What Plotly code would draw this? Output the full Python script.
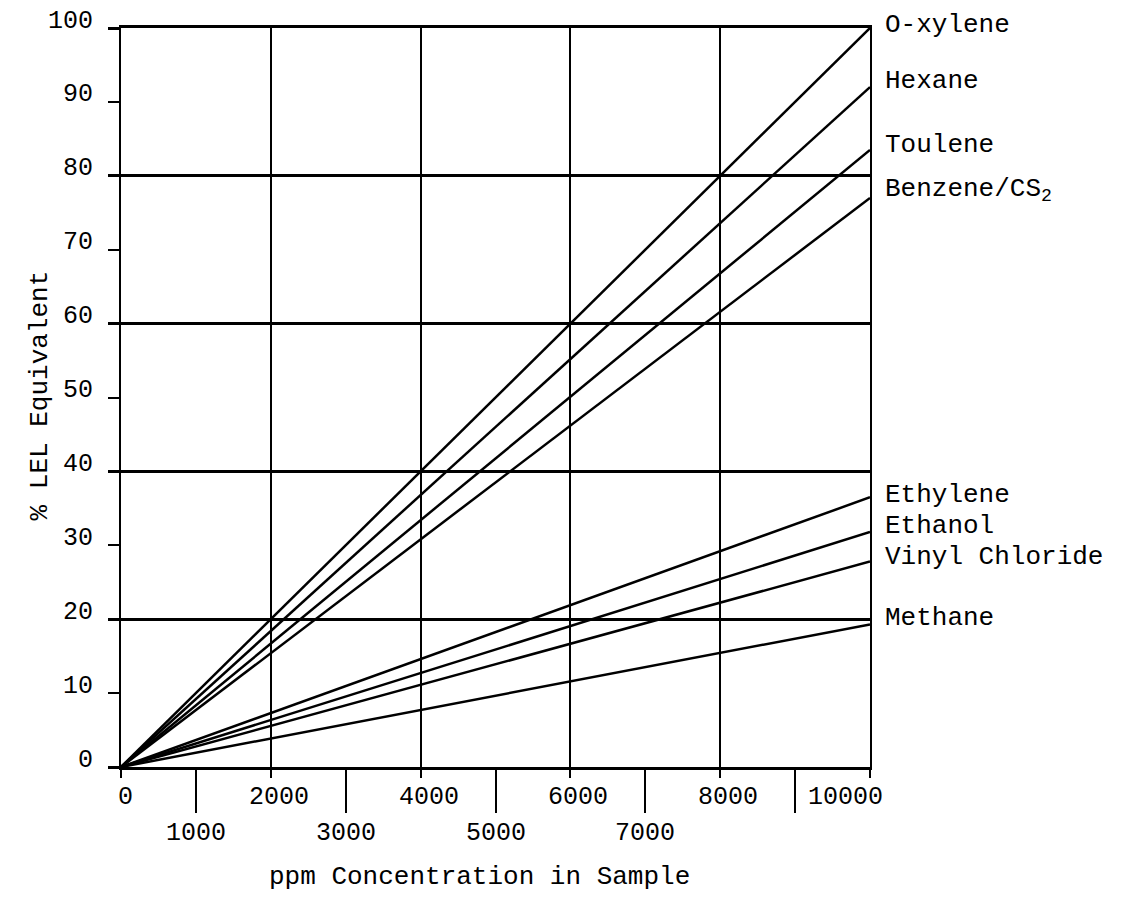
import plotly.graph_objects as go

# ---- data ----
compounds = ["O-xylene", "Hexane", "Toulene", "Benzene/CS<sub>2</sub>",
             "Ethylene", "Ethanol", "Vinyl Chloride", "Methane"]
ppm_points = [0, 10000]
lel_at_10000 = [100, 92, 83.5, 77, 36.5, 31.8, 27.8, 19.3]

y_tick_vals = [0, 10, 20, 30, 40, 50, 60, 70, 80, 90, 100]
x_tick_row1 = [0, 2000, 4000, 6000, 8000, 10000]
x_tick_row2 = [1000, 3000, 5000, 7000]

FONT = "Liberation Mono, Courier New, monospace"
label_yshift = [3, 6, 5, 8, 2, 6, 5, 6]

fig = go.Figure()
for name, end in zip(compounds, lel_at_10000):
    fig.add_trace(go.Scatter(
        x=ppm_points, y=[0, end], mode="lines",
        line=dict(color="black", width=2.5), name=name, showlegend=False,
        hoverinfo="skip", cliponaxis=False))

annotations = []
# series labels at right
for name, end, ys in zip(compounds, lel_at_10000, label_yshift):
    annotations.append(dict(x=ppm_points[-1], y=end, xref="x", yref="y",
                            text=name, showarrow=False, xanchor="left",
                            yanchor="middle", xshift=13, yshift=ys,
                            font=dict(family=FONT, size=26, color="black")))
# y tick labels
for v in y_tick_vals:
    annotations.append(dict(x=0, y=v, xref="x", yref="y", text=str(v),
                            showarrow=False, xanchor="right", yanchor="middle",
                            xshift=-26, yshift=7,
                            font=dict(family=FONT, size=25, color="black")))
# x tick labels, two staggered rows
for v in x_tick_row1:
    last = v == max(x_tick_row1)
    annotations.append(dict(x=v, y=0, xref="x", yref="y", text=str(v),
                            showarrow=False,
                            xanchor="right" if last else "center",
                            yanchor="middle",
                            xshift=15 if last else (4 if v == 0 else 8),
                            yshift=-30,
                            font=dict(family=FONT, size=25, color="black")))
for v in x_tick_row2:
    annotations.append(dict(x=v, y=0, xref="x", yref="y", text=str(v),
                            showarrow=False, xanchor="center", yanchor="middle",
                            yshift=-66,
                            font=dict(family=FONT, size=25, color="black")))
# axis titles
annotations.append(dict(x=-0.108, y=0.503, xref="paper", yref="paper",
                        text="% LEL Equivalent", textangle=-90, showarrow=False,
                        xanchor="center", yanchor="middle",
                        font=dict(family=FONT, size=26, color="black")))
annotations.append(dict(x=0.478, y=-0.149, xref="paper", yref="paper",
                        text="ppm Concentration in Sample", showarrow=False,
                        xanchor="center", yanchor="middle",
                        font=dict(family=FONT, size=26, color="black")))

fig.update_layout(
    width=1110, height=886,
    margin=dict(l=113, r=248, t=20, b=127),
    paper_bgcolor="white", plot_bgcolor="white",
    annotations=annotations,
    xaxis=dict(range=[0, 10000], showline=True, mirror=True, linecolor="black",
               linewidth=3, showgrid=True, gridcolor="black", gridwidth=2,
               tickmode="linear", tick0=0, dtick=2000, ticks="outside",
               ticklen=8, tickwidth=2, tickcolor="black",
               showticklabels=False, zeroline=False,
               minor=dict(tickmode="linear", tick0=0, dtick=1000,
                          ticks="outside", ticklen=43, tickwidth=2,
                          tickcolor="black", showgrid=False)),
    yaxis=dict(range=[0, 100], showline=True, mirror=True, linecolor="black",
               linewidth=2, showgrid=True, gridcolor="black", gridwidth=3,
               tickmode="linear", tick0=0, dtick=20, ticks="outside",
               ticklen=11, tickwidth=3, tickcolor="black",
               showticklabels=False, zeroline=False,
               minor=dict(tickmode="linear", tick0=0, dtick=10,
                          ticks="outside", ticklen=11, tickwidth=2,
                          tickcolor="black", showgrid=False)),
)

fig.write_html("out.html")
